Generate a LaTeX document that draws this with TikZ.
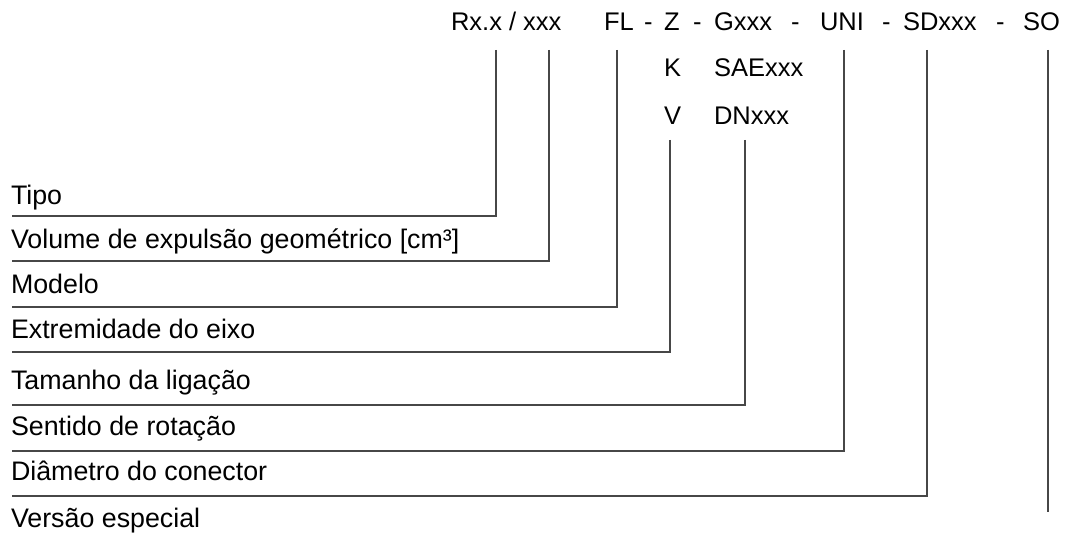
\documentclass[tikz,border=0pt]{standalone}
\usepackage{fontspec}
\setmainfont{Liberation Sans}
\begin{document}
\begin{tikzpicture}[x=1pt,y=-1pt,
  txt/.style={anchor=base west,inner sep=0pt,outer sep=0pt,text=black,font=\fontsize{25.5}{30}\selectfont},
  lbl/.style={txt,font=\fontsize{26.8}{30}\selectfont},
  conn/.style={draw=black!72,line width=1.3pt}]
\useasboundingbox (0,0) rectangle (1070,537);
% top code line
\node[txt] (rx)  at (451,31) {Rx.x / xxx};
\node[txt] (fl)  at (604,31) {FL};
\node[txt] (d1)  at (644,31) {-};
\node[txt] (z)   at (664,31) {Z};
\node[txt] (d2)  at (693,31) {-};
\node[txt] (g)   at (714,31) {Gxxx};
\node[txt] (d3)  at (791,31) {-};
\node[txt] (uni) at (820,31) {UNI};
\node[txt] (d4)  at (882,31) {-};
\node[txt] (sd)  at (903,31) {SDxxx};
\node[txt] (d5)  at (996,31) {-};
\node[txt] (so)  at (1023,31) {SO};
% alternatives
\node[txt] (k)   at (664,77) {K};
\node[txt] (sae) at (714,77) {SAExxx};
\node[txt] (v)   at (664,125) {V};
\node[txt] (dn)  at (714,125) {DNxxx};
% labels
\node[lbl] (l1) at (11,205) {Tipo};
\node[lbl] (l2) at (11,249) {Volume de expulsão geométrico [cm³]};
\node[lbl] (l3) at (11,293) {Modelo};
\node[lbl] (l4) at (11,338) {Extremidade do eixo};
\node[lbl] (l5) at (11,389) {Tamanho da ligação};
\node[lbl] (l6) at (11,435) {Sentido de rotação};
\node[lbl] (l7) at (11,480) {Diâmetro do conector};
\node[lbl] (l8) at (11,527) {Versão especial};
% connector start points
\coordinate (t1) at (496,50);
\coordinate (t2) at (549,50);
\coordinate (t3) at (617,50);
\coordinate (t4) at (670,140);
\coordinate (t5) at (745,140);
\coordinate (t6) at (844,50);
\coordinate (t7) at (927,50);
\coordinate (t8) at (1048,50);
% connector end points
\coordinate (e1) at (12,216);
\coordinate (e2) at (12,261);
\coordinate (e3) at (12,307);
\coordinate (e4) at (12,352);
\coordinate (e5) at (12,405);
\coordinate (e6) at (12,451);
\coordinate (e7) at (12,496);
\coordinate (e8) at (1048,512);
\draw[conn] (t1) |- (e1);
\draw[conn] (t2) |- (e2);
\draw[conn] (t3) |- (e3);
\draw[conn] (t4) |- (e4);
\draw[conn] (t5) |- (e5);
\draw[conn] (t6) |- (e6);
\draw[conn] (t7) |- (e7);
\draw[conn] (t8) -- (e8);
\end{tikzpicture}
\end{document}
